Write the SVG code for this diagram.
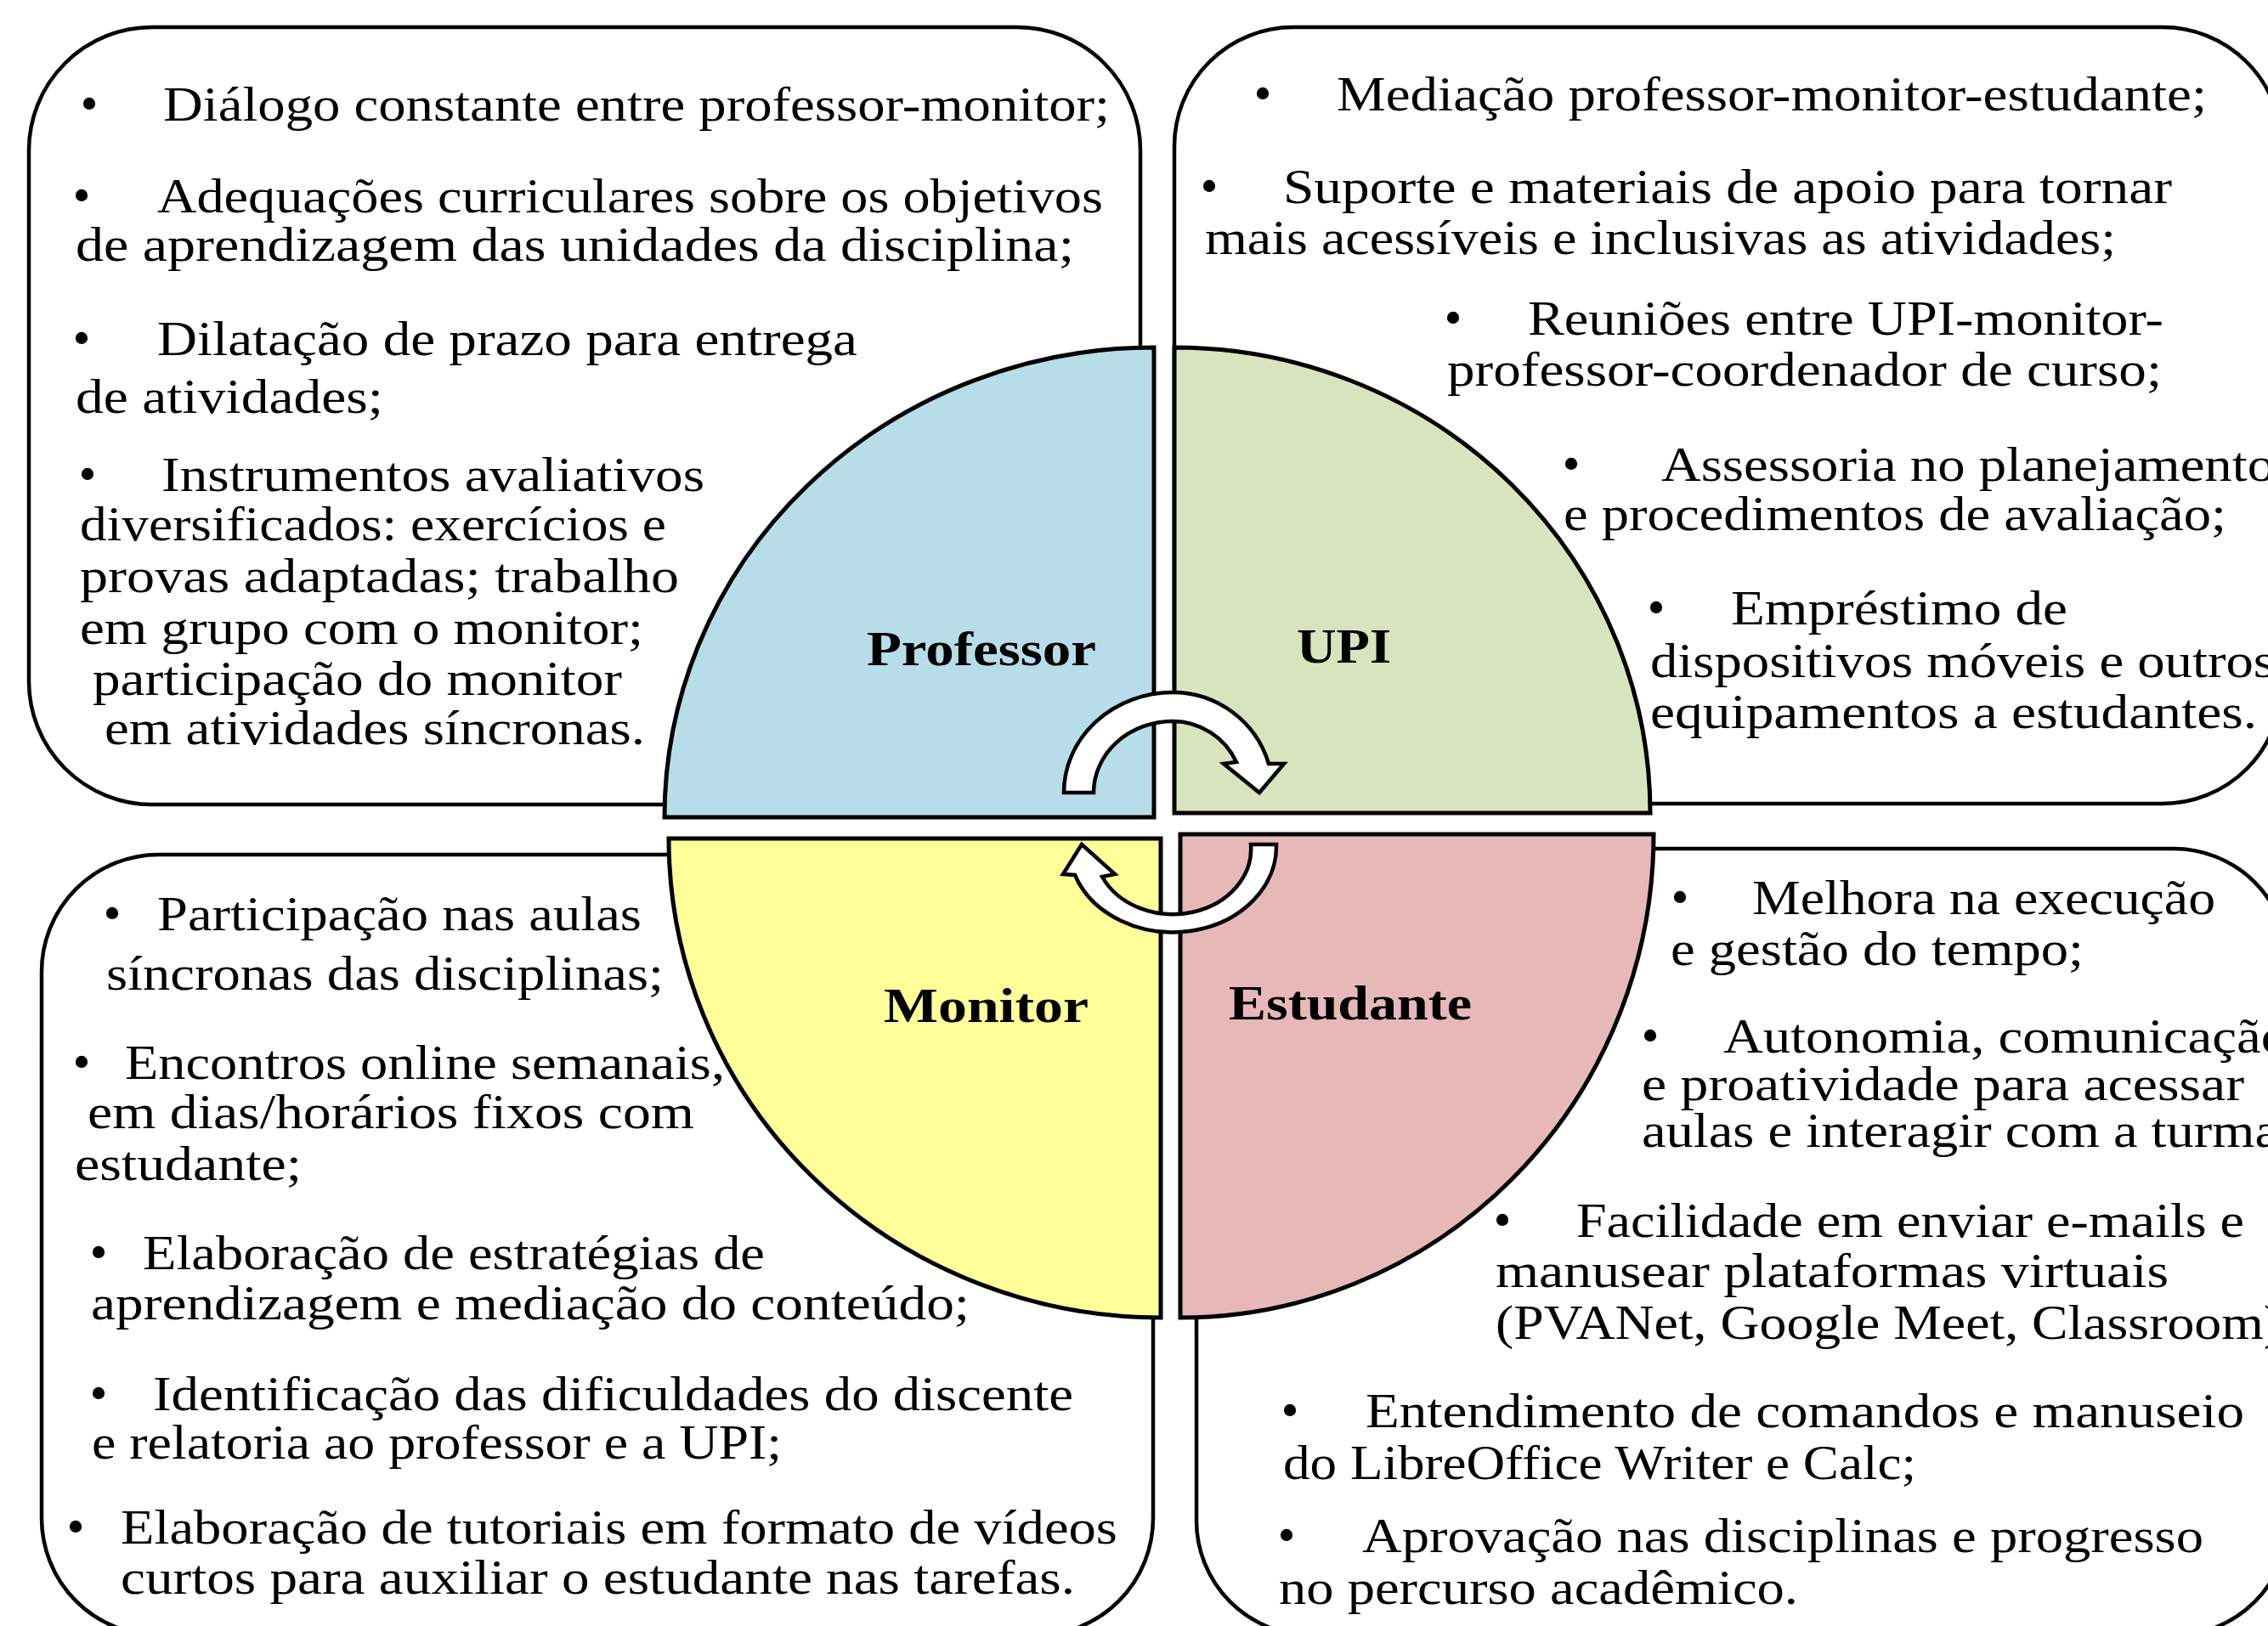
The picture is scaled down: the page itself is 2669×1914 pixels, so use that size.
<svg xmlns="http://www.w3.org/2000/svg" width="2669" height="1914" viewBox="0 0 2669 1914">
<style>
.box{fill:#fff;stroke:#000;stroke-width:4.5}
.q{stroke:#000;stroke-width:5;stroke-linejoin:miter}
.t{font-family:"Liberation Serif","Times New Roman",serif;font-size:56px;fill:#000}
.bu{font-family:"Liberation Serif","Times New Roman",serif;font-size:60px;fill:#000;text-anchor:middle}
.lb{font-family:"Liberation Serif","Times New Roman",serif;font-size:57px;font-weight:bold;fill:#000}
.arr{fill:#fff;stroke:#000;stroke-width:4.5;stroke-linejoin:miter}
</style>
<rect width="2669" height="1914" fill="#fff"/>

<g id="box-professor">
<rect class="box" x="34" y="32" width="1308" height="915" rx="145" ry="145"/>
<text class="bu" x="105" y="142">•</text>
<text class="t" x="192" y="142" textLength="1114" lengthAdjust="spacingAndGlyphs">Diálogo constante entre professor-monitor;</text>
<text class="bu" x="96" y="250">•</text>
<text class="t" x="185" y="250" textLength="1113" lengthAdjust="spacingAndGlyphs">Adequações curriculares sobre os objetivos</text>
<text class="t" x="89" y="307" textLength="1175" lengthAdjust="spacingAndGlyphs">de aprendizagem das unidades da disciplina;</text>
<text class="bu" x="96" y="418">•</text>
<text class="t" x="185" y="418" textLength="824" lengthAdjust="spacingAndGlyphs">Dilatação de prazo para entrega</text>
<text class="t" x="89" y="486" textLength="362" lengthAdjust="spacingAndGlyphs">de atividades;</text>
<text class="bu" x="103" y="578">•</text>
<text class="t" x="190" y="578" textLength="639" lengthAdjust="spacingAndGlyphs">Instrumentos avaliativos</text>
<text class="t" x="94" y="636" textLength="690" lengthAdjust="spacingAndGlyphs">diversificados: exercícios e</text>
<text class="t" x="94" y="697" textLength="705" lengthAdjust="spacingAndGlyphs">provas adaptadas; trabalho</text>
<text class="t" x="94" y="758" textLength="663" lengthAdjust="spacingAndGlyphs">em grupo com o monitor;</text>
<text class="t" x="109" y="818" textLength="623" lengthAdjust="spacingAndGlyphs">participação do monitor</text>
<text class="t" x="123" y="876" textLength="636" lengthAdjust="spacingAndGlyphs">em atividades síncronas.</text>
</g>

<g id="box-upi">
<rect class="box" x="1382" y="32" width="1303" height="914" rx="140" ry="140"/>
<text class="bu" x="1486" y="130">•</text>
<text class="t" x="1573" y="130" textLength="1024" lengthAdjust="spacingAndGlyphs">Mediação professor-monitor-estudante;</text>
<text class="bu" x="1423" y="239">•</text>
<text class="t" x="1510" y="239" textLength="1046" lengthAdjust="spacingAndGlyphs">Suporte e materiais de apoio para tornar</text>
<text class="t" x="1418" y="299" textLength="1072" lengthAdjust="spacingAndGlyphs">mais acessíveis e inclusivas as atividades;</text>
<text class="bu" x="1710" y="394">•</text>
<text class="t" x="1798" y="394" textLength="748" lengthAdjust="spacingAndGlyphs">Reuniões entre UPI-monitor-</text>
<text class="t" x="1703" y="454" textLength="841" lengthAdjust="spacingAndGlyphs">professor-coordenador de curso;</text>
<text class="bu" x="1849" y="566">•</text>
<text class="t" x="1955" y="566" textLength="722" lengthAdjust="spacingAndGlyphs">Assessoria no planejamento</text>
<text class="t" x="1840" y="624" textLength="780" lengthAdjust="spacingAndGlyphs">e procedimentos de avaliação;</text>
<text class="bu" x="1949" y="735">•</text>
<text class="t" x="2037" y="735" textLength="396" lengthAdjust="spacingAndGlyphs">Empréstimo de</text>
<text class="t" x="1942" y="797" textLength="735" lengthAdjust="spacingAndGlyphs">dispositivos móveis e outros</text>
<text class="t" x="1942" y="857" textLength="714" lengthAdjust="spacingAndGlyphs">equipamentos a estudantes.</text>
</g>

<g id="box-monitor">
<rect class="box" x="49" y="1006" width="1308" height="919" rx="138" ry="138"/>
<text class="bu" x="132" y="1095">•</text>
<text class="t" x="185" y="1095" textLength="570" lengthAdjust="spacingAndGlyphs">Participação nas aulas</text>
<text class="t" x="125" y="1165" textLength="656" lengthAdjust="spacingAndGlyphs">síncronas das disciplinas;</text>
<text class="bu" x="96" y="1270">•</text>
<text class="t" x="147" y="1270" textLength="706" lengthAdjust="spacingAndGlyphs">Encontros online semanais,</text>
<text class="t" x="103" y="1328" textLength="714" lengthAdjust="spacingAndGlyphs">em dias/horários fixos com</text>
<text class="t" x="88" y="1389" textLength="267" lengthAdjust="spacingAndGlyphs">estudante;</text>
<text class="bu" x="116" y="1494">•</text>
<text class="t" x="168" y="1494" textLength="732" lengthAdjust="spacingAndGlyphs">Elaboração de estratégias de</text>
<text class="t" x="107" y="1553" textLength="1034" lengthAdjust="spacingAndGlyphs">aprendizagem e mediação do conteúdo;</text>
<text class="bu" x="116" y="1660">•</text>
<text class="t" x="180" y="1660" textLength="1083" lengthAdjust="spacingAndGlyphs">Identificação das dificuldades do discente</text>
<text class="t" x="108" y="1717" textLength="812" lengthAdjust="spacingAndGlyphs">e relatoria ao professor e a UPI;</text>
<text class="bu" x="89" y="1817">•</text>
<text class="t" x="142" y="1817" textLength="1173" lengthAdjust="spacingAndGlyphs">Elaboração de tutoriais em formato de vídeos</text>
<text class="t" x="142" y="1876" textLength="1123" lengthAdjust="spacingAndGlyphs">curtos para auxiliar o estudante nas tarefas.</text>
</g>

<g id="box-estudante">
<rect class="box" x="1408" y="999" width="1285" height="926" rx="135" ry="135"/>
<text class="bu" x="1977" y="1076">•</text>
<text class="t" x="2062" y="1076" textLength="545" lengthAdjust="spacingAndGlyphs">Melhora na execução</text>
<text class="t" x="1966" y="1136" textLength="486" lengthAdjust="spacingAndGlyphs">e gestão do tempo;</text>
<text class="bu" x="1942" y="1239">•</text>
<text class="t" x="2028" y="1239" textLength="665" lengthAdjust="spacingAndGlyphs">Autonomia, comunicação</text>
<text class="t" x="1932" y="1295" textLength="709" lengthAdjust="spacingAndGlyphs">e proatividade para acessar</text>
<text class="t" x="1932" y="1350" textLength="750" lengthAdjust="spacingAndGlyphs">aulas e interagir com a turma</text>
<text class="bu" x="1768" y="1456">•</text>
<text class="t" x="1855" y="1456" textLength="786" lengthAdjust="spacingAndGlyphs">Facilidade em enviar e-mails e</text>
<text class="t" x="1760" y="1515" textLength="792" lengthAdjust="spacingAndGlyphs">manusear plataformas virtuais</text>
<text class="t" x="1760" y="1576" textLength="925" lengthAdjust="spacingAndGlyphs">(PVANet, Google Meet, Classroom)</text>
<text class="bu" x="1518" y="1680">•</text>
<text class="t" x="1607" y="1680" textLength="1034" lengthAdjust="spacingAndGlyphs">Entendimento de comandos e manuseio</text>
<text class="t" x="1510" y="1741" textLength="745" lengthAdjust="spacingAndGlyphs">do LibreOffice Writer e Calc;</text>
<text class="bu" x="1514" y="1827">•</text>
<text class="t" x="1603" y="1827" textLength="990" lengthAdjust="spacingAndGlyphs">Aprovação nas disciplinas e progresso</text>
<text class="t" x="1505" y="1888" textLength="611" lengthAdjust="spacingAndGlyphs">no percurso acadêmico.</text>
</g>

<g id="quadrant-professor">
<path class="q" fill="#B7DDE8" d="M1358,962 L1358,409 A576,553 0 0 0 782,962 Z"/>
<text class="lb" x="1020" y="783" textLength="270" lengthAdjust="spacingAndGlyphs">Professor</text>
</g>
<g id="quadrant-upi">
<path class="q" fill="#D7E4BD" d="M1382,957 L1382,409 A560,548 0 0 1 1942,957 Z"/>
<text class="lb" x="1526" y="780" textLength="111" lengthAdjust="spacingAndGlyphs">UPI</text>
</g>
<g id="quadrant-monitor">
<path class="q" fill="#FFFF99" d="M1366,987 L1366,1551 A579,564 0 0 1 787,987 Z"/>
<text class="lb" x="1040" y="1203" textLength="241" lengthAdjust="spacingAndGlyphs">Monitor</text>
</g>
<g id="quadrant-estudante">
<path class="q" fill="#E6B9B8" d="M1389,982 L1389,1551 A557,569 0 0 0 1946,982 Z"/>
<text class="lb" x="1446" y="1200" textLength="286" lengthAdjust="spacingAndGlyphs">Estudante</text>
</g>

<g id="connectors">
<path class="arr" d="M1252,933 A128,118 0 0 1 1380,815 A118,118 0 0 1 1493,899 L1511,899 L1482,933 L1440,899 L1455,897 A83,83 0 0 0 1380,849 A93,84 0 0 0 1287,933 Z"/>
<path class="arr" d="M1502,994 A122,101 0 0 1 1265,1030 L1251,1029 L1273,994 L1312,1029 L1297,1032 A92,77 0 0 0 1472,994 Z"/>
</g>
</svg>
